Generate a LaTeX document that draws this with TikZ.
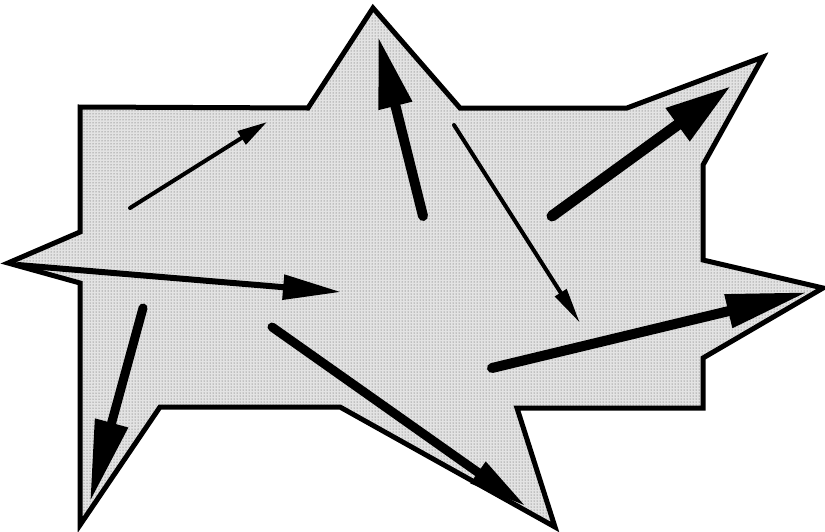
\documentclass[tikz,border=0pt]{standalone}
\usetikzlibrary{arrows.meta,patterns}
\tikzset{
  outline/.style={draw=black,line width=5pt,line join=miter,fill=gray!22},
  vec/.style={line cap=round,-{Triangle[length=#1]}},
}
\begin{document}
\begin{tikzpicture}[x=1pt,y=-1pt]
\useasboundingbox (0,0) rectangle (825,531);
\def\starpath{(80,107) -- (308,108) -- (373,8) -- (460,108) -- (627,108) -- (763,57)
  -- (703,165) -- (703,260) -- (823,288) -- (703,358) -- (703,408) -- (517,408)
  -- (555,527) -- (340,407) -- (160,407) -- (80,525) -- (80,283) -- (8,263)
  -- (80,232) -- cycle}
% star outline
\fill[gray!22] \starpath;
\fill[pattern=dots,pattern color=black!70] \starpath;
\draw[draw=black,line width=5pt,line join=miter] \starpath;
% arrow end points
\coordinate (a1s) at (130,208); \coordinate (a1e) at (267,122);
\coordinate (a2s) at (423,216); \coordinate (a2e) at (378,36);
\coordinate (a3s) at (454,125); \coordinate (a3e) at (580,323);
\coordinate (a4s) at (552,216); \coordinate (a4e) at (731,86);
\coordinate (a5s) at (18,265);  \coordinate (a5e) at (341,292);
\coordinate (a6s) at (143,308); \coordinate (a6e) at (90,502);
\coordinate (a7s) at (272,327); \coordinate (a7e) at (527,507);
\coordinate (a8s) at (492,368); \coordinate (a8e) at (808,292);
\draw[line width=4pt,line cap=round,-{Triangle[length=30pt,width=15pt]}] (a1s) -- (a1e);
\draw[line width=10pt,line cap=round,-{Triangle[length=72pt,width=32pt]}] (a2s) -- (a2e);
\draw[line width=4pt,line cap=round,-{Triangle[length=36pt,width=13pt]}] (a3s) -- (a3e);
\draw[line width=11pt,line cap=round,-{Triangle[length=66pt,width=38pt]}] (a4s) -- (a4e);
\draw[line width=6pt,line cap=round,-{Triangle[length=58pt,width=24pt]}] (a5s) -- (a5e);
\draw[line width=9pt,line cap=round,-{Triangle[length=82pt,width=32pt]}] (a6s) -- (a6e);
\draw[line width=9pt,line cap=round,-{Triangle[length=60pt,width=24pt]}] (a7s) -- (a7e);
\draw[line width=10pt,line cap=round,-{Triangle[length=82pt,width=32pt]}] (a8s) -- (a8e);
\end{tikzpicture}
\end{document}
